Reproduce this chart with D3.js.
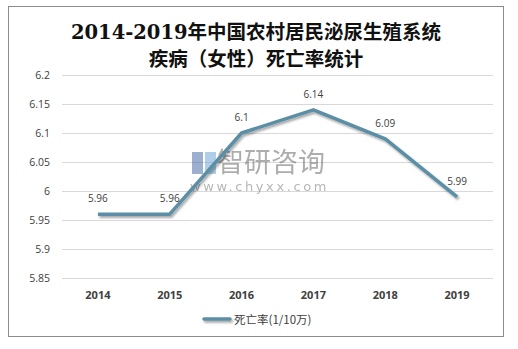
<!DOCTYPE html>
<html><head><meta charset="utf-8">
<script src="https://cdn.jsdelivr.net/npm/d3@7"></script>
<style>body{margin:0;background:#fff}svg{display:block}</style>
</head><body>
<svg id="chart" width="518" height="349"></svg>
<script>
const years = ["2014","2015","2016","2017","2018","2019"];
const rates = [5.96, 5.96, 6.1, 6.14, 6.09, 5.99];
const yTicks = [5.85, 5.9, 5.95, 6, 6.05, 6.1, 6.15, 6.2];
const titleLines = ["2014-2019年中国农村居民泌尿生殖系统", "疾病（女性）死亡率统计"];
const seriesName = "死亡率(1/10万)";

const svg = d3.select("#chart");
const lineColor = "#5b8ea5";

const defs = svg.append("defs");
const f = defs.append("filter").attr("id","shadow").attr("filterUnits","userSpaceOnUse")
  .attr("x",0).attr("y",0).attr("width",518).attr("height",349);
f.append("feDropShadow").attr("dx",1.5).attr("dy",2).attr("stdDeviation",1.2).attr("flood-color","#000").attr("flood-opacity",0.35);

// outer frame
svg.append("rect").attr("x",8.5).attr("y",6.5).attr("width",495).attr("height",330)
  .attr("fill","#fff").attr("stroke","#8c8c8c").attr("stroke-width",1);

// title
svg.append("g").selectAll("text").data(titleLines).join("text")
  .attr("x",256).attr("y",(d,i)=>39 + i*27)
  .attr("text-anchor","middle")
  .attr("font-family","'DejaVu Serif','Noto Sans CJK SC',serif")
  .attr("font-size",19.5).attr("font-weight","bold").attr("fill","#111")
  .text(d=>d);

const x = d3.scaleBand().domain(years).range([62,493]);
const y = d3.scaleLinear().domain([5.85,6.2]).range([278,75]);

// gridlines
svg.append("g").attr("transform","translate(62,0)")
  .call(d3.axisLeft(y).tickValues(yTicks).tickSize(-431).tickFormat(""))
  .call(g=>g.select(".domain").remove())
  .call(g=>g.selectAll(".tick line").attr("stroke","#d9d9d9"));

// y labels
svg.append("g").selectAll("text").data(yTicks).join("text")
  .attr("x",50).attr("y",d=>y(d)+4)
  .attr("text-anchor","end").attr("font-family","'Open Sans','DejaVu Sans',sans-serif")
  .attr("font-size",10.5).attr("fill","#404040")
  .text(d=>d);

// x labels
svg.append("g").selectAll("text").data(years).join("text")
  .attr("x",d=>x(d)+x.bandwidth()/2).attr("y",299)
  .attr("text-anchor","middle").attr("font-family","'Open Sans','DejaVu Sans',sans-serif")
  .attr("font-size",11).attr("font-weight","bold").attr("fill","#404040")
  .text(d=>d);

// watermark
const wm = svg.append("g").attr("opacity",0.55);
wm.append("rect").attr("x",192).attr("y",152).attr("width",11).attr("height",22).attr("fill","#4d6fa8");
wm.append("rect").attr("x",205).attr("y",152).attr("width",11).attr("height",22).attr("fill","#6fa8d8");
wm.append("text").attr("x",217).attr("y",172).attr("font-family","'Noto Sans CJK SC',sans-serif")
  .attr("font-size",27).attr("fill","#6b6b6b").text("智研咨询");
wm.append("text").attr("x",190).attr("y",191).attr("font-family","'DejaVu Sans',sans-serif")
  .attr("font-size",13).attr("letter-spacing",2.6).attr("fill","#7a7a7a").text("www.chyxx.com");

// series line
const line = d3.line().x((d,i)=>x(years[i])+x.bandwidth()/2).y(d=>y(d));
svg.append("path").datum(rates).attr("d",line)
  .attr("fill","none").attr("stroke",lineColor).attr("stroke-width",3.5)
  .attr("stroke-linejoin","round").attr("filter","url(#shadow)");

// value labels
svg.append("g").selectAll("text").data(rates).join("text")
  .attr("x",(d,i)=>x(years[i])+x.bandwidth()/2).attr("y",d=>y(d)-12)
  .attr("text-anchor","middle").attr("font-family","'Open Sans','DejaVu Sans',sans-serif")
  .attr("font-size",10).attr("fill","#404040")
  .text(d=>d);

// legend
svg.append("line").attr("x1",204).attr("x2",230).attr("y1",319).attr("y2",319)
  .attr("stroke",lineColor).attr("stroke-width",3.5).attr("stroke-linecap","round")
  .attr("filter","url(#shadow)");
svg.append("text").attr("x",234).attr("y",323.5)
  .attr("font-family","'Noto Sans CJK SC','DejaVu Sans',sans-serif")
  .attr("font-size",11.5).attr("fill","#404040").text(seriesName);
</script>
</body></html>
